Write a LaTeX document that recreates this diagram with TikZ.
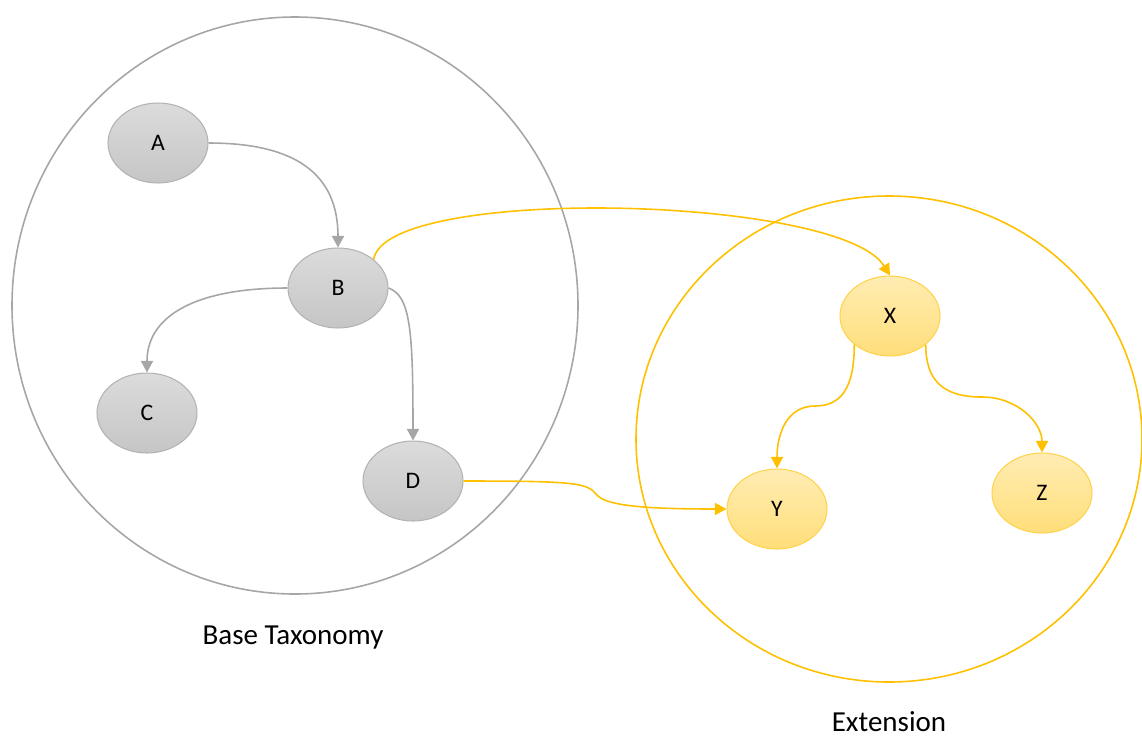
\documentclass[tikz,border=0pt]{standalone}
\usepackage{fontspec}
\setmainfont{Carlito}
\usetikzlibrary{shapes.geometric,arrows.meta}
\definecolor{taxgray}{HTML}{A6A6A6}
\definecolor{extorange}{HTML}{FFC000}
\begin{document}
\begin{tikzpicture}[x=0.02cm, y=-0.02cm, line width=0.9pt,
		basenode/.style={ellipse, draw=taxgray!85, line width=0.6pt, minimum width=2cm, minimum height=1.6cm, inner sep=0pt, top color=gray!28, bottom color=gray!45, font=\fontsize{13.5}{15}\selectfont},
		extnode/.style={ellipse, draw=extorange!70, line width=0.6pt, minimum width=2cm, minimum height=1.6cm, inner sep=0pt, top color=extorange!30, bottom color=extorange!52, font=\fontsize{13.5}{15}\selectfont},
		gline/.style={taxgray, -{Triangle[width=0.24cm, length=0.23cm]}},
		oline/.style={extorange, -{Triangle[width=0.24cm, length=0.23cm]}},
		setlabel/.style={font=\fontsize{16.5}{20}\selectfont}]
		\useasboundingbox (0,0) rectangle (1142,738);
		
		%the two sets
		\draw[taxgray] (295,305.5) ellipse [x radius=283, y radius=288.5];
		\draw[extorange] (889,439) ellipse [x radius=253, y radius=243];
		\node[setlabel] (baselabel) at (293, 638){Base Taxonomy};
		\node[setlabel] (extlabel) at (889, 722){Extension};
		
		%base taxonomy
		\node[basenode] (A) at (158, 143){A};
		\node[basenode] (B) at (338, 288){B};
		\node[basenode] (C) at (147, 413){C};
		\node[basenode] (D) at (413, 481){D};
		
		%extension
		\node[extnode] (X) at (890, 316){X};
		\node[extnode] (Y) at (777, 509){Y};
		\node[extnode] (Z) at (1042, 493){Z};
		
		\draw[gline] (A.east) .. controls +(85,0) and +(0,-75) .. (B.north);
		\draw[gline] (B.west) .. controls +(-95,0) and +(0,-55) .. (C.north);
		\draw[gline] (B.east) .. controls +(22,8) and +(0,-110) .. (D.north);
		
		\draw[oline] (B.north east) .. controls (385,185) and (840,195) .. (X.north);
		\coordinate (dbend) at (597, 495);
		\draw[oline] (D.east) .. controls +(115,0) and +(-10,-12) .. (dbend) .. controls +(10,12) and +(-70,0) .. (Y.west);
		\coordinate (xybend) at (815, 406);
		\draw[oline] (X.south west) .. controls +(0,45) and +(25,0) .. (xybend) .. controls +(-28,0) and +(0,-35) .. (Y.north);
		\coordinate (xzbend) at (982, 397);
		\draw[oline] (X.south east) .. controls +(0,35) and +(-40,0) .. (xzbend) .. controls +(35,0) and +(0,-30) .. (Z.north);
		\end{tikzpicture}
\end{document}
